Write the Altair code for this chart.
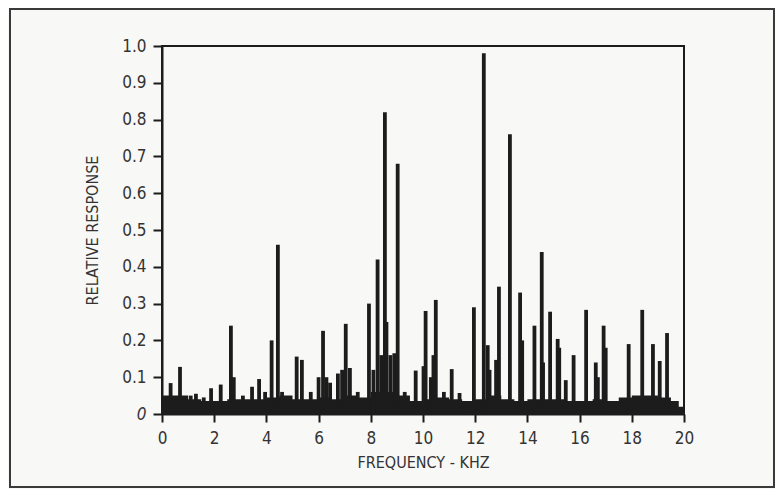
import altair as alt
import pandas as pd

# Noise floor (kHz, relative response)
floor_f = [0, 0.5, 1.0, 1.5, 2.0, 2.5, 3.0, 3.5, 4.0, 4.5, 5.0, 5.5, 6.0, 6.5, 7.0, 7.5,
           8.0, 8.5, 9.0, 9.5, 10.0, 10.5, 11.0, 11.5, 12.0, 12.5, 13.0, 13.5, 14.0, 14.5,
           15.0, 15.5, 16.0, 16.5, 17.0, 17.5, 18.0, 18.5, 19.0, 19.5, 19.8, 20.0]
floor_v = [0.05, 0.05, 0.04, 0.035, 0.035, 0.04, 0.04, 0.04, 0.045, 0.05, 0.04, 0.04,
           0.045, 0.04, 0.05, 0.045, 0.06, 0.06, 0.05, 0.035, 0.04, 0.045, 0.04, 0.035,
           0.04, 0.05, 0.04, 0.035, 0.04, 0.04, 0.04, 0.035, 0.035, 0.04, 0.035, 0.045,
           0.05, 0.05, 0.045, 0.035, 0.02, 0.0]

# Spectral lines
peak_f = [0.33, 0.69, 1.1, 1.3, 1.6, 1.88, 2.25, 2.64, 2.75, 3.1, 3.45, 3.72, 3.95, 4.2, 4.44,
          4.6, 5.16, 5.36, 5.7, 6.0, 6.17, 6.3, 6.44, 6.74, 6.9, 7.04, 7.2, 7.5, 7.93, 8.1,
          8.26, 8.4, 8.54, 8.6, 8.75, 8.9, 9.03, 9.3, 9.72, 10.02, 10.1, 10.3, 10.4, 10.49,
          10.8, 11.1, 11.4, 11.95, 12.33, 12.48, 12.55, 12.8, 12.91, 13.33, 13.72, 13.8,
          14.27, 14.55, 14.6, 14.87, 15.16, 15.22, 15.47, 15.77, 16.25, 16.62, 16.7, 16.92,
          17.0, 17.88, 18.4, 18.81, 19.07, 19.35]
peak_v = [0.084, 0.128, 0.05, 0.055, 0.045, 0.07, 0.08, 0.24, 0.1, 0.05, 0.074, 0.095, 0.06,
          0.2, 0.46, 0.06, 0.156, 0.147, 0.06, 0.1, 0.226, 0.1, 0.085, 0.11, 0.12, 0.245,
          0.125, 0.06, 0.3, 0.12, 0.42, 0.16, 0.82, 0.25, 0.16, 0.165, 0.68, 0.06, 0.118,
          0.13, 0.28, 0.1, 0.16, 0.31, 0.06, 0.122, 0.057, 0.29, 0.98, 0.187, 0.12, 0.147,
          0.346, 0.76, 0.33, 0.2, 0.24, 0.44, 0.14, 0.278, 0.204, 0.18, 0.092, 0.16, 0.283,
          0.14, 0.1, 0.24, 0.18, 0.19, 0.283, 0.19, 0.144, 0.22]

x_ticks = [0, 2, 4, 6, 8, 10, 12, 14, 16, 18, 20]
y_ticks = [0, 0.1, 0.2, 0.3, 0.4, 0.5, 0.6, 0.7, 0.8, 0.9, 1.0]

floor_df = pd.DataFrame({"f": floor_f, "v": floor_v})
peak_df = pd.DataFrame({"f": peak_f, "v": peak_v})

FONT = "DejaVu Sans Condensed, Liberation Sans Narrow, sans-serif"
INK = "#1c1c1c"
TXT = "#333333"

xscale = alt.Scale(domain=[0, 20], nice=False, zero=False)
yscale = alt.Scale(domain=[0, 1], nice=False)

xaxis = alt.Axis(values=x_ticks, title="FREQUENCY - KHZ", grid=False, labelOverlap=False,
                 labelFlush=False,
                 domainColor=INK, domainWidth=2, tickColor=INK, tickWidth=2, tickSize=8,
                 labelFont=FONT, labelFontSize=17, labelColor=TXT, labelPadding=8,
                 titleFont=FONT, titleFontSize=16, titleFontWeight="normal", titleColor=TXT,
                 titlePadding=8)
yaxis = alt.Axis(values=y_ticks, title="RELATIVE RESPONSE", grid=False, labelOverlap=False,
                 labelFlush=False,
                 labelExpr="datum.value == 0 ? '0' : format(datum.value, '.1f')",
                 labelFontStyle={"condition": {"test": "datum.value == 0", "value": "italic"},
                                 "value": "normal"},
                 domainColor=INK, domainWidth=2, tickColor=INK, tickWidth=2, tickSize=9,
                 labelFont=FONT, labelFontSize=17, labelColor=TXT, labelPadding=7,
                 titleFont=FONT, titleFontSize=16, titleFontWeight="normal", titleColor=TXT,
                 titlePadding=21)

floor = alt.Chart(floor_df).mark_area(color=INK, interpolate="step-after").encode(
    x=alt.X("f:Q", scale=xscale, axis=xaxis),
    y=alt.Y("v:Q", scale=yscale, axis=yaxis),
)
peaks = alt.Chart(peak_df).mark_rule(color=INK, strokeWidth=3.8).encode(
    x=alt.X("f:Q", scale=xscale, axis=xaxis),
    y=alt.Y("v:Q", scale=yscale, axis=yaxis),
    y2=alt.datum(0),
)
frame = alt.Chart(pd.DataFrame({"a": [0]})).mark_rect(
    fill=None, stroke="#3a3a3a", strokeWidth=2, clip=False
).encode(
    x=alt.value(-152), x2=alt.value(612), y=alt.value(-37), y2=alt.value(441)
)

chart = alt.layer(frame, floor, peaks).properties(
    width=522, height=368,
    autosize=alt.AutoSizeParams(type="none"),
    padding={"left": 154, "top": 38, "right": 91, "bottom": 75},
    background="#f8f8f6",
).configure_view(stroke=INK, strokeWidth=2)

chart.save("out.html", embed_options={"renderer": "svg", "actions": False})
